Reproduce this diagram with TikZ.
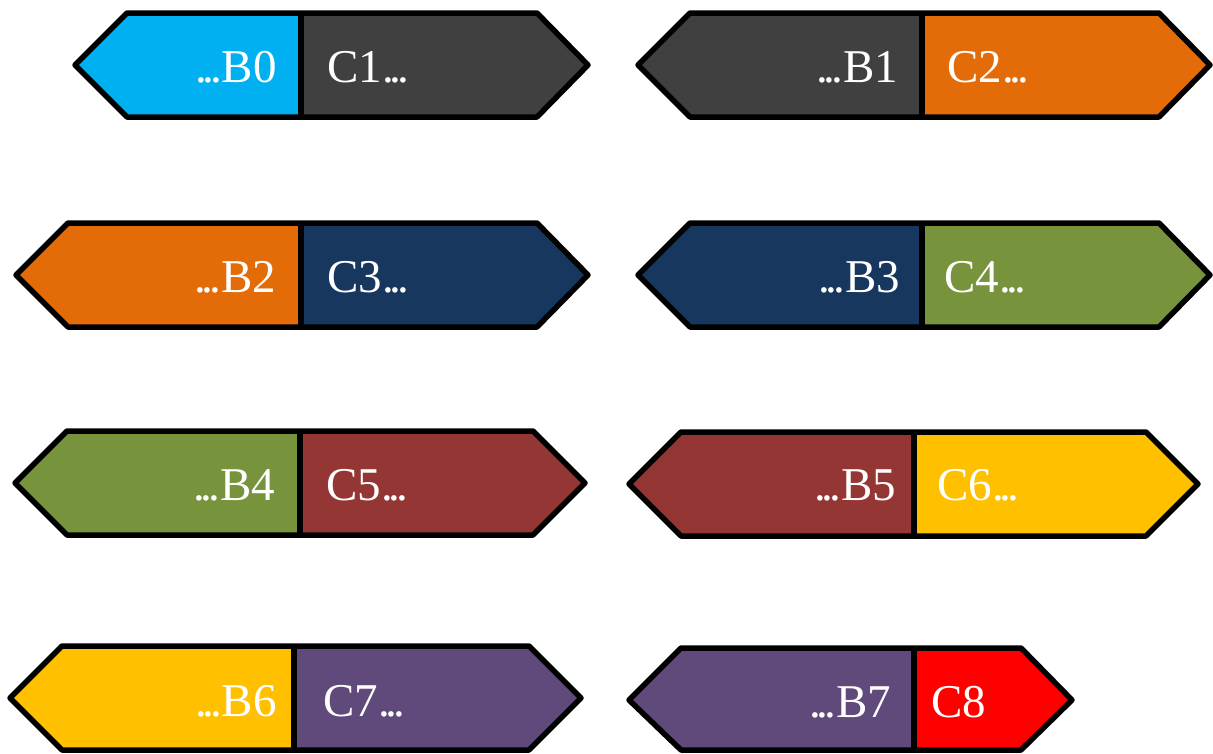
\documentclass[tikz,border=0pt]{standalone}
\usepackage{fontspec}
\setmainfont{Liberation Serif}
\definecolor{skyB}{HTML}{00B0F0}
\definecolor{slateB}{HTML}{404040}
\definecolor{rustB}{HTML}{E36C09}
\definecolor{navyB}{HTML}{17375E}
\definecolor{oliveB}{HTML}{77933C}
\definecolor{wineB}{HTML}{943634}
\definecolor{goldB}{HTML}{FFC000}
\definecolor{plumB}{HTML}{604A7B}
\definecolor{redB}{HTML}{FF0000}
\newcommand\ellip{.\kern-.09em.\kern-.09em.}
\begin{document}
\begin{tikzpicture}[x=1pt, y=-1pt,
  rim/.style={line width=5.5pt, line join=round},
  lbl/.style={inner sep=0pt, text=white, font=\fontsize{47}{52}\selectfont}]
\useasboundingbox (0,0) rectangle (1213,753);
% row 1
\fill[skyB] (75,65) -- (127,13) -- (301,13) -- (301,117) -- (127,117) -- cycle;
\fill[slateB] (301,13) -- (537,13) -- (588,65) -- (537,117) -- (301,117) -- cycle;
\draw[rim] (75,65) -- (127,13) -- (537,13) -- (588,65) -- (537,117) -- (127,117) -- cycle;
\draw[rim] (301,13) -- (301,117);
\node[lbl, anchor=base east] (b0) at (277,82) {\ellip B0};
\node[lbl, anchor=base west] (c1) at (327,82) {C1\ellip};

\fill[slateB] (638,65) -- (690,13) -- (922,13) -- (922,117) -- (690,117) -- cycle;
\fill[rustB] (922,13) -- (1159,13) -- (1210,65) -- (1159,117) -- (922,117) -- cycle;
\draw[rim] (638,65) -- (690,13) -- (1159,13) -- (1210,65) -- (1159,117) -- (690,117) -- cycle;
\draw[rim] (922,13) -- (922,117);
\node[lbl, anchor=base east] (b1) at (898,82) {\ellip B1};
\node[lbl, anchor=base west] (c2) at (947,82) {C2\ellip};

% row 2
\fill[rustB] (16,275) -- (68,223) -- (301,223) -- (301,327) -- (68,327) -- cycle;
\fill[navyB] (301,223) -- (537,223) -- (588,275) -- (537,327) -- (301,327) -- cycle;
\draw[rim] (16,275) -- (68,223) -- (537,223) -- (588,275) -- (537,327) -- (68,327) -- cycle;
\draw[rim] (301,223) -- (301,327);
\node[lbl, anchor=base east] (b2) at (276,292) {\ellip B2};
\node[lbl, anchor=base west] (c3) at (327,292) {C3\ellip};

\fill[navyB] (638,275) -- (690,223) -- (922,223) -- (922,327) -- (690,327) -- cycle;
\fill[oliveB] (922,223) -- (1159,223) -- (1210,275) -- (1159,327) -- (922,327) -- cycle;
\draw[rim] (638,275) -- (690,223) -- (1159,223) -- (1210,275) -- (1159,327) -- (690,327) -- cycle;
\draw[rim] (922,223) -- (922,327);
\node[lbl, anchor=base east] (b3) at (900,292) {\ellip B3};
\node[lbl, anchor=base west] (c4) at (944,292) {C4\ellip};

% row 3
\fill[oliveB] (15,483) -- (67,431) -- (300,431) -- (300,535) -- (67,535) -- cycle;
\fill[wineB] (300,431) -- (533,431) -- (585,483) -- (533,535) -- (300,535) -- cycle;
\draw[rim] (15,483) -- (67,431) -- (533,431) -- (585,483) -- (533,535) -- (67,535) -- cycle;
\draw[rim] (300,431) -- (300,535);
\node[lbl, anchor=base east] (b4) at (275,500) {\ellip B4};
\node[lbl, anchor=base west] (c5) at (326,500) {C5\ellip};

\fill[wineB] (629,484) -- (681,432) -- (914,432) -- (914,536) -- (681,536) -- cycle;
\fill[goldB] (914,432) -- (1146,432) -- (1198,484) -- (1146,536) -- (914,536) -- cycle;
\draw[rim] (629,484) -- (681,432) -- (1146,432) -- (1198,484) -- (1146,536) -- (681,536) -- cycle;
\draw[rim] (914,432) -- (914,536);
\node[lbl, anchor=base east] (b5) at (896,500) {\ellip B5};
\node[lbl, anchor=base west] (c6) at (937,500) {C6\ellip};

% row 4
\fill[goldB] (10,698) -- (62,646) -- (294,646) -- (294,750) -- (62,750) -- cycle;
\fill[plumB] (294,646) -- (529,646) -- (581,698) -- (529,750) -- (294,750) -- cycle;
\draw[rim] (10,698) -- (62,646) -- (529,646) -- (581,698) -- (529,750) -- (62,750) -- cycle;
\draw[rim] (294,646) -- (294,750);
\node[lbl, anchor=base east] (b6) at (277,716) {\ellip B6};
\node[lbl, anchor=base west] (c7) at (323,716) {C7\ellip};

\fill[plumB] (629,700) -- (681,648) -- (914,648) -- (914,750) -- (681,750) -- cycle;
\fill[redB] (914,648) -- (1021,648) -- (1072,700) -- (1021,750) -- (914,750) -- cycle;
\draw[rim] (629,700) -- (681,648) -- (1021,648) -- (1072,700) -- (1021,750) -- (681,750) -- cycle;
\draw[rim] (914,648) -- (914,750);
\node[lbl, anchor=base east] (b7) at (891,717) {\ellip B7};
\node[lbl, anchor=base west] (c8) at (931,717) {C8};
\end{tikzpicture}
\end{document}
